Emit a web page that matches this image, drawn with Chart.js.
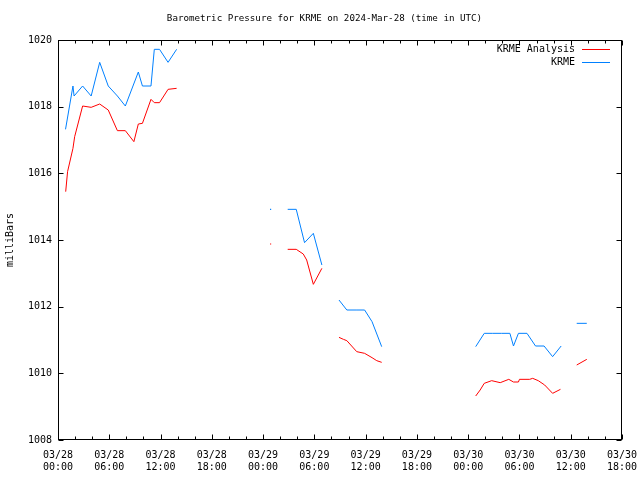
<!DOCTYPE html>
<html>
<head>
<meta charset="utf-8">
<script src="https://cdn.jsdelivr.net/npm/chart.js@4.4.1/dist/chart.umd.min.js"></script>
<style>
  html, body { margin: 0; padding: 0; background: #fff; }
  canvas { display: block; }
</style>
</head>
<body>
<canvas id="c" width="640" height="480"></canvas>
<script>
// ---- data (hours after 2024-03-28 00:00 UTC) ----
const chartTitle = 'Barometric Pressure for KRME on 2024-Mar-28 (time in UTC)';
const yAxisTitle = 'milliBars';
const seriesNames = ['KRME Analysis', 'KRME'];

const analysisHours = [0.9,1.12,1.75,1.95,2.88,3.88,4.88,5.88,6.95,7.88,8.88,9.4,9.88,10.88,11.27,11.88,12.88,13.88,14.88,
  24.88,25.88,
  26.88,27.88,28.7,29.1,29.88,30.88,31.88,
  32.88,33.4,33.8,34.96,35.88,36.75,37.3,37.88,38.88,
  48.88,49.4,49.88,50.75,51.75,52.75,53.3,53.88,54.0,55.2,55.55,56.2,56.95,57.88,58.8,59.88,
  60.7,61.88];
const analysisValues = [1015.45,1016.05,1016.75,1017.1,1018.02,1017.98,1018.08,1017.9,1017.28,1017.28,1016.95,1017.48,1017.5,1018.22,1018.12,1018.12,1018.52,1018.55,null,
  1013.88,null,
  1013.72,1013.72,1013.58,1013.4,1012.67,1013.15,null,
  1011.08,1011.02,1010.98,1010.65,1010.6,1010.47,1010.38,1010.33,null,
  1009.32,1009.5,1009.7,1009.78,1009.72,1009.82,1009.74,1009.74,1009.82,1009.82,1009.85,1009.78,1009.65,1009.4,1009.52,null,
  1010.25,1010.42];

const obsHours = [0.88,1.75,1.88,2.88,3.88,4.88,5.88,6.95,7.88,9.4,9.88,10.88,11.27,11.88,12.88,13.88,14.88,
  24.88,25.88,
  26.88,27.88,28.85,29.88,30.88,31.88,
  32.88,33.8,34.88,35.88,36.75,37.88,38.88,
  48.88,49.88,50.88,51.88,52.88,53.3,53.88,54.88,55.88,56.88,57.88,58.88,59.88,
  60.7,61.88];
const obsValues = [1017.32,1018.62,1018.32,1018.62,1018.32,1019.33,1018.62,1018.32,1018.02,1019.04,1018.62,1018.62,1019.72,1019.72,1019.33,1019.72,null,
  1014.92,null,
  1014.92,1014.92,1013.92,1014.2,1013.25,null,
  1012.2,1011.9,1011.9,1011.9,1011.55,1010.8,null,
  1010.8,1011.2,1011.2,1011.2,1011.2,1010.82,1011.2,1011.2,1010.82,1010.82,1010.5,1010.82,null,
  1011.5,1011.5];

const xTickHours = [0,6,12,18,24,30,36,42,48,54,60,66];
const xTickDates = ['03/28','03/28','03/28','03/28','03/29','03/29','03/29','03/29','03/30','03/30','03/30','03/30'];
const xTickTimes = ['00:00','06:00','12:00','18:00','00:00','06:00','12:00','18:00','00:00','06:00','12:00','18:00'];
const yMin = 1008, yMax = 1020, yStep = 2;
const xMin = 0, xMax = 66, xStep = 2;

// ---- build ----
const FONT = 'DejaVu Sans Mono';
const toPoints = (hs, vs) => hs.map((h, i) => ({ x: h, y: vs[i] }));

function isolatedRadius(ctx) {
  const d = ctx.dataset.data, i = ctx.dataIndex;
  if (!d[i] || d[i].y === null) return 0;
  const prev = d[i - 1], next = d[i + 1];
  const pn = !prev || prev.y === null, nn = !next || next.y === null;
  return (pn && nn) ? 0.8 : 0;
}

const framePlugin = {
  id: 'gnuFrame',
  afterDatasetsDraw(chart) {
    const { ctx, chartArea: a, scales: { x, y } } = chart;
    const L = Math.round(a.left) + 0.5, R = Math.round(a.right) - 0.5;
    const T = Math.round(a.top) + 0.5, B = Math.round(a.bottom) - 0.5;
    ctx.save();
    ctx.strokeStyle = '#000';
    ctx.lineWidth = 1;
    ctx.beginPath();
    x.ticks.forEach(t => {
      const px = Math.round(x.getPixelForValue(t.value)) + 0.5;
      const len = (t.value % 6 === 0) ? 5 : 3;
      ctx.moveTo(px, B); ctx.lineTo(px, B - len);
      ctx.moveTo(px, T); ctx.lineTo(px, T + len);
    });
    y.ticks.forEach(t => {
      const py = Math.round(y.getPixelForValue(t.value)) + 0.5;
      ctx.moveTo(L, py); ctx.lineTo(L + 5, py);
      ctx.moveTo(R, py); ctx.lineTo(R - 5, py);
    });
    ctx.stroke();
    ctx.strokeRect(L, T, R - L, B - T);
    ctx.restore();
  },
  afterDraw(chart) {
    const { ctx } = chart;
    ctx.save();
    // title
    ctx.fillStyle = '#000';
    ctx.font = '9.2px "' + FONT + '"';
    ctx.textAlign = 'center';
    ctx.textBaseline = 'middle';
    ctx.fillText(chartTitle, 324.5, 19);
    // legend
    ctx.font = '10px "' + FONT + '"';
    ctx.textAlign = 'right';
    chart.data.datasets.forEach((ds, i) => {
      const yy = 49 + 13 * i;
      ctx.fillStyle = '#000';
      ctx.fillText(ds.label, 575, yy);
      ctx.strokeStyle = ds.borderColor;
      ctx.lineWidth = 1;
      ctx.beginPath();
      ctx.moveTo(582, yy + 0.5); ctx.lineTo(610, yy + 0.5);
      ctx.stroke();
    });
    ctx.restore();
  }
};

Chart.defaults.color = '#000';
Chart.defaults.font.family = FONT;
Chart.defaults.font.size = 10;

new Chart(document.getElementById('c'), {
  type: 'line',
  data: {
    datasets: [
      { label: seriesNames[0], data: toPoints(analysisHours, analysisValues), borderColor: '#ff0000', backgroundColor: '#ff0000',
        borderWidth: 1, pointRadius: isolatedRadius, pointStyle: 'rect', pointBorderWidth: 0, spanGaps: false, tension: 0 },
      { label: seriesNames[1], data: toPoints(obsHours, obsValues), borderColor: '#0080ff', backgroundColor: '#0080ff',
        borderWidth: 1, pointRadius: isolatedRadius, pointStyle: 'rect', pointBorderWidth: 0, spanGaps: false, tension: 0 }
    ]
  },
  options: {
    responsive: false,
    animation: false,
    devicePixelRatio: 1,
    layout: { padding: { left: 0, right: 18, top: 40, bottom: 0 } },
    plugins: {
      legend: { display: false },
      tooltip: { enabled: false },
      title: { display: false }
    },
    scales: {
      x: {
        type: 'linear', min: xMin, max: xMax,
        grid: { display: false, drawTicks: false },
        border: { display: false },
        ticks: {
          stepSize: xStep, autoSkip: false, maxRotation: 0, minRotation: 0, padding: 9,
          font: { family: FONT, size: 10, lineHeight: 1.2 },
          callback: (v) => {
            const i = xTickHours.indexOf(v);
            return i >= 0 ? [xTickDates[i], xTickTimes[i]] : '';
          }
        },
        afterFit: (s) => { s.height = 40; s.paddingLeft = 0; s.paddingRight = 0; }
      },
      y: {
        min: yMin, max: yMax,
        grid: { display: false, drawTicks: false },
        border: { display: false },
        ticks: { stepSize: yStep, padding: 6, font: { family: FONT, size: 10 }, callback: (v) => String(v) },
        title: { display: true, text: yAxisTitle, font: { family: FONT, size: 10, lineHeight: 1.2 }, padding: { top: 4, bottom: 0 } },
        afterFit: (s) => { s.width = 58; s.paddingTop = 0; s.paddingBottom = 0; }
      }
    }
  },
  plugins: [framePlugin]
});
</script>
</body>
</html>
